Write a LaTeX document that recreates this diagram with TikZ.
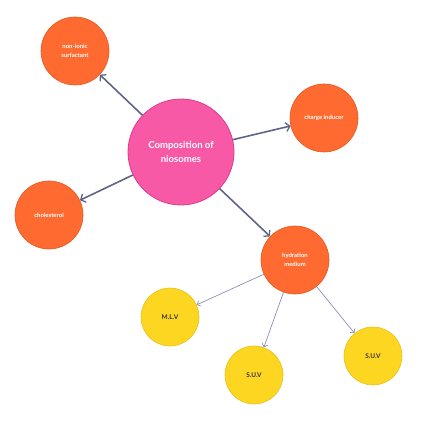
\documentclass[tikz,border=0pt]{standalone}
\usepackage{fontspec}
\setmainfont{Lato}
\usetikzlibrary{arrows.meta}

\definecolor{pinkfill}{HTML}{F859A6}
\definecolor{pinkline}{HTML}{DE3A8C}
\definecolor{orangefill}{HTML}{FE6A30}
\definecolor{orangeline}{HTML}{E3561C}
\definecolor{yellowfill}{HTML}{FCD620}
\definecolor{yellowline}{HTML}{E6C01C}
\definecolor{mainarrow}{HTML}{5F6388}
\definecolor{subarrow}{HTML}{8C8FB5}

\begin{document}
\begin{tikzpicture}[x=1bp,y=-1bp,
                    topic/.style={circle,draw=pinkline,fill=pinkfill,line width=0.8pt,minimum size=106bp,inner sep=0pt,
                                  text=white,font=\bfseries\fontsize{9.6}{13.5}\selectfont,align=center},
                    part/.style={circle,draw=orangeline,fill=orangefill,line width=0.6pt,minimum size=68bp,inner sep=0pt,
                                 text=white,font=\bfseries\fontsize{6}{9.5}\selectfont,align=center},
                    kind/.style={circle,draw=yellowline,fill=yellowfill,line width=0.6pt,minimum size=58bp,inner sep=0pt,
                                 text=black!80,font=\bfseries\fontsize{6.5}{8}\selectfont,align=center},
                    mainlink/.style={draw=mainarrow,line width=1.6pt,-{Straight Barb[length=4pt,width=9pt,line width=1.3pt]}},
                    sublink/.style={draw=subarrow,line width=0.7pt,-{Straight Barb[length=3pt,width=6pt]}}]

                    \useasboundingbox (0,0) rectangle (430,434);

                    \node[topic] (niosomes) at (181,152) {Composition of\\niosomes};

                    \node[part] (surfactant) at (75,51) {non-ionic\\surfactant};
                    \node[part] (inducer) at (324,118) {charge inducer};
                    \node[part] (cholesterol) at (49,215) {cholesterol};
                    \node[part] (medium) at (295,260) {hydration\\medium};

                    \node[kind] (mlv) at (170,317) {M.L.V};
                    \node[kind] (suvmid) at (254,375) {S.U.V};
                    \node[kind] (suvright) at (373,356) {S.U.V};

                    \draw[mainlink] (niosomes) -- (surfactant);
                    \draw[mainlink] (niosomes) -- (inducer);
                    \draw[mainlink] (niosomes) -- (cholesterol);
                    \draw[mainlink] (niosomes) -- (medium);

                    \draw[sublink] (medium) -- (mlv);
                    \draw[sublink] (medium) -- (suvmid);
                    \draw[sublink] (medium) -- (suvright);
                \end{tikzpicture}
\end{document}
